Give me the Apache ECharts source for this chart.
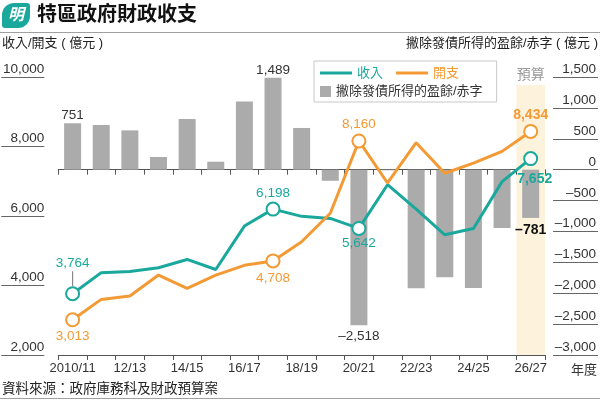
<!DOCTYPE html>
<html><head><meta charset="utf-8">
<script src="https://cdn.jsdelivr.net/npm/echarts@6/dist/echarts.min.js"></script>
<style>html,body{margin:0;padding:0;background:#fff}#c{width:600px;height:400px}</style>
</head><body><div id="c"></div>
<script>
// ---- data ----
const years = ['2010/11','11/12','12/13','13/14','14/15','15/16','16/17','17/18','18/19','19/20','20/21','21/22','22/23','23/24','24/25','25/26','26/27'];
const revenue     = [3764, 4370, 4400, 4510, 4750, 4460, 5710, 6198, 5990, 5930, 5642, 6900, 6200, 5460, 5640, 6990, 7652];
const expenditure = [3013, 3600, 3700, 4300, 3920, 4300, 4580, 4708, 5260, 6080, 8160, 6950, 8110, 7230, 7520, 7860, 8434];
const balance     = [751, 723, 636, 205, 820, 129, 1105, 1489, 675, -180, -2518, -10, -1920, -1740, -1915, -944, -781];
const leftTicks  = [2000, 4000, 6000, 8000, 10000];
const rightTicks = [-3000, -2500, -2000, -1500, -1000, -500, 0, 500, 1000, 1500];
const budgetYear = '26/27';
const budgetBandTop = 9770;

// ---- styles ----
const TEAL = '#1aa89c', ORANGE = '#f39a34', GRAY = '#ababab', TXT = '#333';
const FONT = "'Liberation Sans', 'Noto Sans CJK TC', sans-serif";
const fmt = v => (v < 0 ? '\u2013' : '') + String(Math.abs(v)).replace(/\B(?=(\d{3})+(?!\d))/g, ',');

const revLabelCfg = {0: {pos: 'top', dist: 0, lead: true}, 7: {pos: 'top', dist: 2}, 10: {pos: 'bottom', dist: 1}, 16: {pos: 'bottom', dist: 6, bold: true, dx: 4}};
const expLabelCfg = {0: {pos: 'bottom', dist: 2}, 7: {pos: 'bottom', dist: 3}, 10: {pos: 'top', dist: 2}, 16: {pos: 'top', dist: 2, bold: true}};
const balLabelCfg = {0: {pos: 'top', dist: 1}, 7: {pos: 'top', dist: 1}, 10: {pos: 'bottom', dist: 4}, 16: {pos: 'bottom', dist: 5, bold: true}};

function lineData(values, cfgs, color) {
  return values.map((v, i) => {
    const c = cfgs[i];
    if (!c) return {value: v, symbol: 'none'};
    const label = {
      show: true, position: c.pos, distance: c.dist, color: color,
      fontSize: c.bold ? 14 : 13.5, fontWeight: c.bold ? 'bold' : 'normal',
      offset: [c.dx || 0, 0]
    };
    if (c.lead) {
      label.formatter = () => '{v|' + fmt(v) + '}\n{l|}';
      label.rich = {v: {fontSize: 13.5, color: color, lineHeight: 16}, l: {width: 1.2, height: 15, backgroundColor: '#888'}};
    } else {
      label.formatter = () => fmt(v);
    }
    return {value: v, symbol: 'emptyCircle', symbolSize: 13, itemStyle: {borderWidth: 2.5, color: color}, label};
  });
}

const barData = balance.map((v, i) => {
  const c = balLabelCfg[i];
  if (!c) return {value: v};
  return {value: v, label: {show: true, position: c.pos, distance: c.dist, formatter: () => fmt(v),
    color: c.bold ? '#111' : TXT, fontSize: c.bold ? 14 : 13.5, fontWeight: c.bold ? 'bold' : 'normal'}};
});

const bandData = years.map(y => y === budgetYear ? budgetBandTop : null);

const chart = echarts.init(document.getElementById('c'));
chart.setOption({
  animation: false,
  textStyle: {fontFamily: FONT},
  title: [
    {text: '{a|明}', left: 2, top: 3, padding: 0,
     textStyle: {rich: {a: {width: 28, height: 25, lineHeight: 25, backgroundColor: TEAL, borderRadius: [12, 3, 12, 3],
       color: '#fff', fontSize: 16, fontWeight: 'bold', fontStyle: 'italic', align: 'center', fontFamily: FONT}}}},
    {text: '特區政府財政收支', left: 37, top: 5, padding: 0, textStyle: {fontSize: 20, fontWeight: 'bold', color: '#111', fontFamily: FONT}},
    {text: '收入/開支 ( 億元 )', left: 2, top: 37, padding: 0, textStyle: {fontSize: 13, fontWeight: 'normal', color: '#222', fontFamily: FONT}},
    {text: '撇除發債所得的盈餘/赤字 ( 億元 )', right: 2, top: 37, padding: 0, textStyle: {fontSize: 13, fontWeight: 'normal', color: '#222', fontFamily: FONT}},
    {text: '資料來源：政府庫務科及財政預算案', left: 2, top: 383, padding: 0, textStyle: {fontSize: 13.5, fontWeight: 'normal', color: '#222', fontFamily: FONT}}
  ],
  graphic: [
    {type: 'line', shape: {x1: 0, y1: 32.5, x2: 600, y2: 32.5}, style: {stroke: '#a0a0a0', lineWidth: 1}},
    {type: 'line', shape: {x1: 0, y1: 398.5, x2: 600, y2: 398.5}, style: {stroke: '#a0a0a0', lineWidth: 1}}
  ],
  legend: [
    {data: [{name: '收入', textStyle: {color: TEAL}}, {name: '開支', textStyle: {color: ORANGE}}],
     left: 320, top: 66.5, padding: 0, itemWidth: 32, itemHeight: 3, icon: 'rect', itemGap: 13, z: 6,
     itemStyle: {borderWidth: 0}, textStyle: {fontSize: 13, fontFamily: FONT}, selectedMode: false},
    {data: [{name: '撇除發債所得的盈餘/赤字', textStyle: {color: TXT}}],
     left: 314, top: 61, padding: [24, 14, 4, 6], itemWidth: 11, itemHeight: 11, icon: 'rect', z: 5,
     borderColor: '#c8c8c8', borderWidth: 1, backgroundColor: '#fff',
     itemStyle: {borderWidth: 0}, textStyle: {fontSize: 13, fontFamily: FONT}, selectedMode: false}
  ],
  grid: {left: 57, right: 53, top: 77, bottom: 45},
  xAxis: [
    {type: 'category', data: years, position: 'bottom', boundaryGap: true,
     axisLine: {onZero: false, lineStyle: {color: '#555', width: 1}},
     axisTick: {show: true, interval: 0, length: 5, lineStyle: {color: '#555'}},
     axisLabel: {interval: 1, fontSize: 13, color: TXT, margin: 7},
     name: '年度', nameLocation: 'end', nameGap: 26,
     nameTextStyle: {fontSize: 13, color: TXT, verticalAlign: 'top', padding: [9, 0, 0, 0]}},
    {type: 'category', data: years, position: 'bottom', boundaryGap: true,
     axisLine: {onZero: true, onZeroAxisIndex: 1, lineStyle: {color: '#555', width: 1}},
     axisTick: {show: true, interval: 0, length: 5, lineStyle: {color: '#555'}},
     axisLabel: {show: false}}
  ],
  yAxis: [
    {type: 'value', position: 'left', offset: 14,
     min: leftTicks[0], max: leftTicks[leftTicks.length - 1], interval: leftTicks[1] - leftTicks[0],
     axisLine: {show: false}, splitLine: {show: false},
     axisTick: {show: true, length: 43, lineStyle: {color: '#666'}},
     axisLabel: {margin: 0, fontSize: 13.5, color: TXT, verticalAlign: 'bottom', padding: [0, 0, 1, 0], formatter: fmt}},
    {type: 'value', position: 'right', offset: 8,
     min: rightTicks[0], max: rightTicks[rightTicks.length - 1], interval: rightTicks[1] - rightTicks[0],
     axisLine: {show: false}, splitLine: {show: false},
     axisTick: {show: true, length: 45, lineStyle: {color: '#666'}},
     axisLabel: {margin: 43, align: 'right', fontSize: 13.5, color: TXT, verticalAlign: 'bottom', padding: [0, 0, 1, 0], formatter: fmt}}
  ],
  series: [
    {name: '預算', type: 'bar', xAxisIndex: 1, yAxisIndex: 0, data: bandData, barWidth: '100%', silent: true, z: 0,
     itemStyle: {color: '#fdf3dc'},
     label: {show: true, position: 'top', distance: 3, formatter: '預算', color: '#999', fontSize: 14}},
    {name: '撇除發債所得的盈餘/赤字', type: 'bar', xAxisIndex: 0, yAxisIndex: 1, data: barData, barWidth: 17, z: 1,
     itemStyle: {color: GRAY}},
    {name: '收入', type: 'line', xAxisIndex: 0, yAxisIndex: 0, data: lineData(revenue, revLabelCfg, TEAL), z: 3,
     color: TEAL, lineStyle: {color: TEAL, width: 3}, itemStyle: {color: TEAL}, symbol: 'none'},
    {name: '開支', type: 'line', xAxisIndex: 0, yAxisIndex: 0, data: lineData(expenditure, expLabelCfg, ORANGE), z: 4,
     color: ORANGE, lineStyle: {color: ORANGE, width: 3}, itemStyle: {color: ORANGE}, symbol: 'none'}
  ]
});
</script></body></html>
